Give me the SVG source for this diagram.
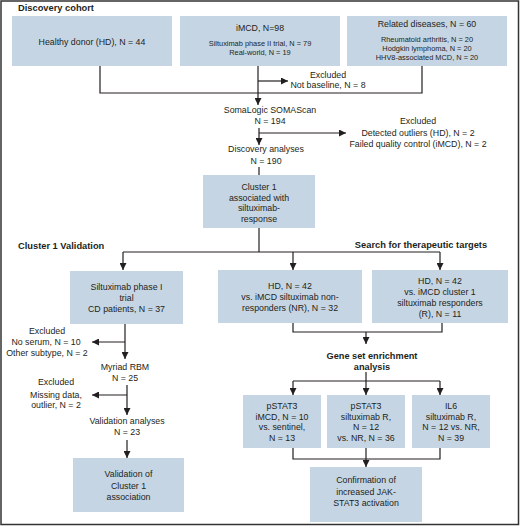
<svg xmlns="http://www.w3.org/2000/svg" width="520" height="527" viewBox="0 0 520 527">
<defs>
<marker id="ah" viewBox="0 0 10 10" refX="10" refY="5" markerWidth="7" markerHeight="7" markerUnits="userSpaceOnUse" orient="auto"><path d="M0,0 L10,5 L0,10 z" fill="#231f20"/></marker>
</defs>
<style>
.box{fill:#c6d5e3;}
text{font-family:"Liberation Sans",Arial,sans-serif;fill:#231f20;}
.t{font-size:8.8px;text-anchor:middle;}
.s{font-size:7.4px;text-anchor:middle;}
.h{font-size:9.3px;font-weight:bold;}
.hc{font-size:9.2px;font-weight:bold;text-anchor:middle;}
.ln{fill:none;stroke:#231f20;stroke-width:1.2;}
.ar{fill:none;stroke:#231f20;stroke-width:1.2;marker-end:url(#ah);}
</style>
<rect x="1" y="1" width="517.5" height="523.5" fill="#ffffff" stroke="#333333" stroke-width="1.5"/>
<g id="headers">
<text class="h" x="18" y="27" transform="translate(0,-16)">Discovery cohort</text>
<text class="h" x="18" y="249">Cluster 1 Validation</text>
<text class="h" x="421" y="248" text-anchor="middle">Search for therapeutic targets</text>
</g>
<g id="connectors">
<polyline class="ln" points="100,66 100,93 422,93 422,66"/>
<line class="ar" x1="258" y1="66" x2="258" y2="105"/>
<line class="ar" x1="258" y1="81" x2="288" y2="81"/>
<line class="ar" x1="259" y1="128" x2="259" y2="145"/>
<line class="ar" x1="259" y1="133" x2="346" y2="133"/>
<polyline class="ln" points="259,167 259,175"/>
<polyline class="ln" points="259,228 259,252"/>
<polyline class="ln" points="123,252 440,252"/>
<line class="ar" x1="123" y1="252" x2="123" y2="270"/>
<line class="ar" x1="293" y1="252" x2="293" y2="270"/>
<line class="ar" x1="440" y1="252" x2="440" y2="270"/>
<line class="ar" x1="125" y1="324" x2="125" y2="359"/>
<line class="ar" x1="125" y1="342" x2="92" y2="342"/>
<line class="ar" x1="127" y1="385" x2="127" y2="415"/>
<line class="ar" x1="127" y1="395" x2="92" y2="395"/>
<line class="ar" x1="127" y1="440" x2="127" y2="458"/>
<polyline class="ln" points="293,323 293,332 442,332 442,323"/>
<line class="ar" x1="366" y1="332" x2="366" y2="344"/>
<polyline class="ln" points="366,372 366,381"/>
<polyline class="ln" points="293,381 440,381"/>
<line class="ar" x1="293" y1="381" x2="293" y2="395"/>
<line class="ar" x1="366" y1="381" x2="366" y2="395"/>
<line class="ar" x1="440" y1="381" x2="440" y2="395"/>
<polyline class="ln" points="293,448 293,459 440,459 440,448"/>
<line class="ar" x1="366" y1="448" x2="366" y2="467"/>
</g>
<g id="hd">
<rect class="box" x="12" y="16" width="160" height="50"/>
<text class="t" x="92" y="45">Healthy donor (HD), N = 44</text>
</g>
<g id="imcd">
<rect class="box" x="180" y="16" width="160" height="50"/>
<text class="t" x="260" y="31">iMCD, N=98</text>
<text class="s" x="260" y="46">Siltuximab phase II trial, N = 79</text>
<text class="s" x="260" y="55">Real-world, N = 19</text>
</g>
<g id="related">
<rect class="box" x="347" y="16" width="160" height="50"/>
<text class="t" x="427" y="27">Related diseases, N = 60</text>
<text class="s" x="427" y="42">Rheumatoid arthritis, N = 20</text>
<text class="s" x="427" y="51">Hodgkin lymphoma, N = 20</text>
<text class="s" x="427" y="60">HHV8-associated MCD, N = 20</text>
</g>
<g id="excl1">
<text class="t" x="328" y="78">Excluded</text>
<text class="t" x="328" y="88">Not baseline, N = 8</text>
</g>
<g id="soma">
<text class="t" x="270" y="113">SomaLogic SOMAScan</text>
<text class="t" x="270" y="124">N = 194</text>
</g>
<g id="excl2">
<text class="t" x="418" y="124">Excluded</text>
<text class="t" x="418" y="136">Detected outliers (HD), N = 2</text>
<text class="t" x="418" y="147">Failed quality control (iMCD), N = 2</text>
</g>
<g id="disc">
<text class="t" x="266" y="152">Discovery analyses</text>
<text class="t" x="266" y="164">N = 190</text>
</g>
<g id="cluster1">
<rect class="box" x="203" y="175" width="112" height="53"/>
<text class="t" x="259" y="190">Cluster 1</text>
<text class="t" x="259" y="200.5">associated with</text>
<text class="t" x="259" y="211">siltuximab-</text>
<text class="t" x="259" y="221.5">response</text>
</g>
<g id="silt">
<rect class="box" x="70" y="271" width="113" height="53"/>
<text class="t" x="126.5" y="290">Siltuximab phase I</text>
<text class="t" x="126.5" y="301">trial</text>
<text class="t" x="126.5" y="312">CD patients, N = 37</text>
</g>
<g id="excl3">
<text class="t" x="47" y="334">Excluded</text>
<text class="t" x="46" y="345">No serum, N = 10</text>
<text class="t" x="47" y="356">Other subtype, N = 2</text>
</g>
<g id="myriad">
<text class="t" x="125" y="370">Myriad RBM</text>
<text class="t" x="125" y="381">N = 25</text>
</g>
<g id="excl4">
<text class="t" x="56" y="385">Excluded</text>
<text class="t" x="56" y="398">Missing data,</text>
<text class="t" x="56" y="408">outlier, N = 2</text>
</g>
<g id="valan">
<text class="t" x="127" y="424">Validation analyses</text>
<text class="t" x="127" y="435">N = 23</text>
</g>
<g id="valbox">
<rect class="box" x="73" y="458" width="111" height="54"/>
<text class="t" x="128.5" y="477">Validation of</text>
<text class="t" x="128.5" y="488.5">Cluster 1</text>
<text class="t" x="128.5" y="500">association</text>
</g>
<g id="hdnr">
<rect class="box" x="218" y="270" width="144" height="53"/>
<text class="t" x="290" y="289">HD, N = 42</text>
<text class="t" x="290" y="300">vs. iMCD siltuximab non-</text>
<text class="t" x="290" y="311">responders (NR), N = 32</text>
</g>
<g id="hdr">
<rect class="box" x="372" y="270" width="136" height="53"/>
<text class="t" x="440" y="284">HD, N = 42</text>
<text class="t" x="440" y="295">vs. iMCD cluster 1</text>
<text class="t" x="440" y="306">siltuximab responders</text>
<text class="t" x="440" y="317">(R), N = 11</text>
</g>
<g id="gsea">
<text class="hc" x="372" y="359">Gene set enrichment</text>
<text class="hc" x="372" y="370">analysis</text>
</g>
<g id="p1">
<rect class="box" x="243" y="395" width="78" height="53"/>
<text class="t" x="282" y="409">pSTAT3</text>
<text class="t" x="282" y="419.5">iMCD, N = 10</text>
<text class="t" x="282" y="430">vs. sentinel,</text>
<text class="t" x="282" y="440.5">N = 13</text>
</g>
<g id="p2">
<rect class="box" x="327" y="395" width="78" height="53"/>
<text class="t" x="366" y="409">pSTAT3</text>
<text class="t" x="366" y="419.5">siltuximab R,</text>
<text class="t" x="366" y="430">N = 12</text>
<text class="t" x="366" y="440.5">vs. NR, N = 36</text>
</g>
<g id="p3">
<rect class="box" x="412" y="395" width="78" height="53"/>
<text class="t" x="451" y="409">IL6</text>
<text class="t" x="451" y="419.5">siltuximab R,</text>
<text class="t" x="451" y="430">N = 12 vs. NR,</text>
<text class="t" x="451" y="440.5">N = 39</text>
</g>
<g id="confirm">
<rect class="box" x="310" y="467" width="112" height="55"/>
<text class="t" x="366" y="483">Confirmation of</text>
<text class="t" x="366" y="494.5">increased JAK-</text>
<text class="t" x="366" y="506">STAT3 activation</text>
</g>
</svg>
